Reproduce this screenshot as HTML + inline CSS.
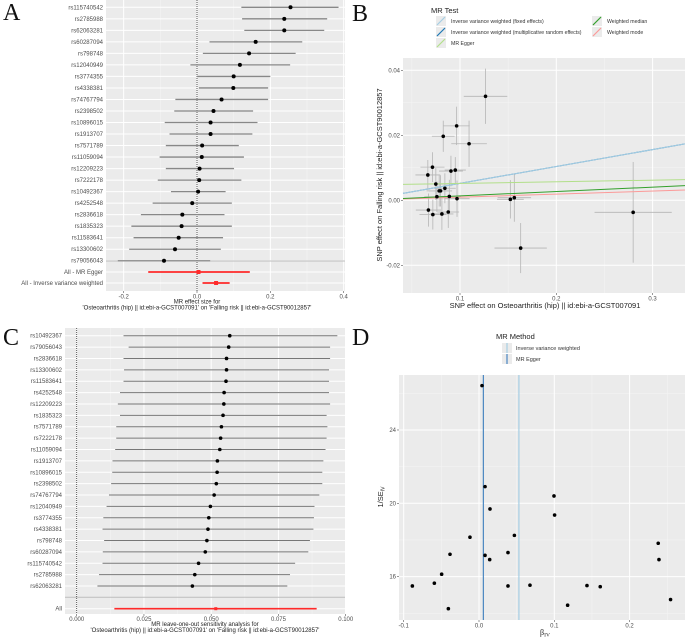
<!DOCTYPE html>
<html><head><meta charset="utf-8">
<style>
html,body{margin:0;padding:0;background:#fff;}
svg{display:block;font-family:"Liberation Sans",sans-serif;}
.tick{font-size:6px;fill:#4d4d4d;}
.ttl{font-size:6px;fill:#222;}
.plab{font-family:"Liberation Serif",serif;font-size:24px;fill:#111;}
</style></head>
<body>
<svg id="fig" width="685" height="638" viewBox="0 0 685 638" xmlns="http://www.w3.org/2000/svg"></svg>
<script>
// ---------- Panel A data ----------
const aSnps=["rs115740542","rs2785988","rs62063281","rs60287094","rs798748","rs12040949","rs3774355","rs4338381","rs74767794","rs2398502","rs10896015","rs1913707","rs7571789","rs11059094","rs12209223","rs7222178","rs10492367","rs4252548","rs2836618","rs1835323","rs11583641","rs13300602","rs79056043"];
const aEst=[0.255,0.238,0.238,0.160,0.142,0.117,0.100,0.099,0.067,0.045,0.037,0.037,0.014,0.013,0.007,0.006,0.003,-0.013,-0.040,-0.042,-0.050,-0.060,-0.090];
const aLo=[0.121,0.123,0.129,0.034,0.016,-0.018,0.000,0.005,-0.059,-0.062,-0.088,-0.075,-0.085,-0.102,-0.085,-0.107,-0.071,-0.121,-0.153,-0.179,-0.173,-0.185,-0.216];
const aHi=[0.386,0.355,0.347,0.287,0.269,0.254,0.200,0.194,0.194,0.153,0.165,0.151,0.114,0.128,0.101,0.121,0.078,0.095,0.075,0.095,0.071,0.065,0.036];
const aSumLabels=["All - MR Egger","All - Inverse variance weighted"];
const aSumEst=[0.004,0.052];
const aSumLo=[-0.133,0.015];
const aSumHi=[0.144,0.089];
const aTicks=[-0.2,0.0,0.2,0.4];
const aTickLabels=["-0.2","0.0","0.2","0.4"];
// ---------- Panel B data ----------
const bX=[0.1265,0.0965,0.0826,0.1094,0.0714,0.0666,0.0951,0.0906,0.0749,0.0843,0.0784,0.0798,0.0760,0.0889,0.0969,0.0672,0.0718,0.0812,0.0878,0.1523,0.1564,0.1630,0.2798];
const bY=[0.0320,0.0229,0.0197,0.0174,0.0102,0.0078,0.0093,0.0090,0.0050,0.0037,0.0029,0.0029,0.0011,0.0012,0.0005,-0.0030,-0.0044,-0.0042,-0.0036,0.0003,0.0008,-0.0147,-0.0037];
const bXse=[0.0226,0.0136,0.0118,0.0185,0.0125,0.0129,0.0110,0.0124,0.0125,0.0113,0.0131,0.0120,0.0131,0.0122,0.0131,0.0131,0.0139,0.0120,0.0113,0.0139,0.0174,0.0272,0.0401];
const bYse=[0.0085,0.0059,0.0048,0.0071,0.0046,0.0046,0.0040,0.0047,0.0049,0.0046,0.0048,0.0048,0.0047,0.0051,0.0056,0.0051,0.0046,0.0049,0.0049,0.0059,0.0074,0.0077,0.0155];
const bMethods=["Inverse variance weighted (fixed effects)","Inverse variance weighted (multiplicative random effects)","MR Egger","Weighted median","Weighted mode"];
const bIntercept=[0,0,0.0047,0,0];
const bSlope=[0.052,0.052,0.005,0.0135,0.0095];
const bColors=["#a6cee3","#1f78b4","#b2df8a","#33a02c","#fb9a99"];
const bXTicks=[0.1,0.2,0.3];
const bXTickLabels=["0.1","0.2","0.3"];
const bYTicks=[-0.02,0.00,0.02,0.04];
const bYTickLabels=["-0.02","0.00","0.02","0.04"];
// ---------- Panel C data ----------
const cSnps=["rs10492367","rs79056043","rs2836618","rs13300602","rs11583641","rs4252548","rs12209223","rs1835323","rs7571789","rs7222178","rs11059094","rs1913707","rs10896015","rs2398502","rs74767794","rs12040949","rs3774355","rs4338381","rs798748","rs60287094","rs115740542","rs2785988","rs62063281"];
const cEst=[0.0569,0.0565,0.0557,0.0557,0.0555,0.0548,0.0547,0.0544,0.0538,0.0535,0.0532,0.0523,0.0522,0.0519,0.0511,0.0497,0.0491,0.0488,0.0484,0.0478,0.0453,0.0439,0.0430];
const cLo=[0.0174,0.0193,0.0174,0.0176,0.0174,0.0161,0.0153,0.0161,0.0147,0.0147,0.0143,0.0133,0.0132,0.0128,0.0120,0.0111,0.0099,0.0096,0.0102,0.0097,0.0096,0.0083,0.0077];
const cHi=[0.0969,0.0942,0.0942,0.0938,0.0938,0.0938,0.0942,0.0929,0.0932,0.0929,0.0925,0.0917,0.0913,0.0913,0.0902,0.0884,0.0882,0.0880,0.0867,0.0861,0.0812,0.0793,0.0783];
const cAll=[0.0517,0.0140,0.0892];
const cTicks=[0,0.025,0.05,0.075,0.1];
const cTickLabels=["0.000","0.025","0.050","0.075","0.100"];
// ---------- Panel D data ----------
const dBeta=[0.004,0.008,0.0146,-0.012,0.047,0.0996,0.1004,-0.0385,0.008,0.0142,0.0385,-0.0496,-0.0593,-0.0885,0.0385,0.0677,0.1434,0.161,-0.0407,0.1177,0.238,0.239,0.2544];
const dInvSe=[26.42,20.91,19.69,18.15,18.25,20.4,19.36,17.22,17.16,16.93,17.31,16.13,15.64,15.49,15.49,15.53,15.51,15.45,14.25,14.44,17.82,16.93,14.75];
const dMethods=["Inverse variance weighted","MR Egger"];
const dMethodBeta=[0.053,0.0058];
const dColors=["#a6cee3","#4a86c0"];
const dXTicks=[-0.1,0,0.1,0.2];
const dXTickLabels=["-0.1","0.0","0.1","0.2"];
const dYTicks=[16,20,24];
const dYTickLabels=["16","20","24"];

const NS="http://www.w3.org/2000/svg";
const svg=document.getElementById('fig');
function el(tag,attrs,parent){const e=document.createElementNS(NS,tag);for(const k in attrs)e.setAttribute(k,attrs[k]);(parent||svg).appendChild(e);return e;}
function grp(name){const g=el('g',{});


return g;}
function txt(g,x,y,s,cls,anchor,name){const t=el('text',{x:x,y:y,'class':cls,'text-anchor':anchor||'start'},g);t.textContent=s;


return t;}
function ln(g,x1,y1,x2,y2,stroke,w,name,extra){const l=el('line',Object.assign({x1:x1,y1:y1,x2:x2,y2:y2,stroke:stroke,'stroke-width':w},extra||{}),g);


return l;}
function bg(g,x,y,w,h){const r=el('rect',{x:x,y:y,width:w,height:h,fill:'#ebebeb'},g);


return r;}
function dot(g,x,y,r,fill,name){const c=el('circle',{cx:x,cy:y,r:r,fill:fill},g);


return c;}

// ================= Panel A =================
(function(){
const g=grp('panel-a-forest-plot');
const L=106,R=345,T=0,B=291;
const xA=v=>197+v*366.7;
const rowY=i=>7.3+i*11.52;
bg(g,L,T,R-L,B-T);
[-0.1,0.1,0.3].forEach(v=>ln(g,xA(v),T,xA(v),B,'#f5f5f5',0.5,'minor-gridline'));
aTicks.forEach(v=>ln(g,xA(v),T,xA(v),B,'#fff',1,'major-gridline'));
aSnps.forEach((s,i)=>ln(g,L,rowY(i),R,rowY(i),'#fff',1,'row-gridline'));
aSumLabels.forEach((s,i)=>ln(g,L,272+i*11,R,272+i*11,'#fff',1,'row-gridline'));
ln(g,L,261,R,261,'#bdbdbd',1,'separator-line');
ln(g,xA(0),T,xA(0),B,'#333',0.8,'zero-line',{'stroke-dasharray':'1,1'});
aSnps.forEach((s,i)=>{
 ln(g,xA(aLo[i]),rowY(i),xA(aHi[i]),rowY(i),'#888',1.3,'ci-'+s);
 dot(g,xA(aEst[i]),rowY(i),2,'#000','point-'+s);
 txt(g,103,rowY(i)+2,s,'tick','end','label-'+s);
});
aSumLabels.forEach((s,i)=>{
 const y=272+i*11;
 ln(g,xA(aSumLo[i]),y,xA(aSumHi[i]),y,'#ff2a2a',1.8,'ci-summary');
 const r=el('rect',{x:xA(aSumEst[i])-2,y:y-2,width:4,height:4,fill:'#ff2a2a'},g);
 
 
 txt(g,103,y+2,s,'tick','end','summary-label');
});
aTicks.forEach((v,i)=>{ln(g,xA(v),B,xA(v),B+2,'#555',0.6,'x-tick');txt(g,xA(v),B+7.5,aTickLabels[i],'tick','middle','x-tick-label');});
txt(g,197,303.5,'MR effect size for','ttl','middle','x-axis-title-line1');
txt(g,197,309.5,"'Osteoarthritis (hip) || id:ebi-a-GCST007091' on 'Falling risk || id:ebi-a-GCST90012857'",'ttl','middle','x-axis-title-line2');
txt(g,3,20,'A','plab','start','panel-label-a');
})();

// ================= Panel B =================
(function(){
const g=grp('panel-b-scatter-plot');
const L=403,R=685,T=58,B=293;
const xB=v=>460+(v-0.1)*963;
const yB=v=>200.3-v*3250;
bg(g,L,T,R-L,B-T);
[0.05,0.15,0.25].forEach(v=>ln(g,xB(v),T,xB(v),B,'#f5f5f5',0.5,'minor-gridline'));
[-0.01,0.01,0.03].forEach(v=>ln(g,L,yB(v),R,yB(v),'#f5f5f5',0.5,'minor-gridline'));
bXTicks.forEach(v=>ln(g,xB(v),T,xB(v),B,'#fff',1,'major-gridline'));
bYTicks.forEach(v=>ln(g,L,yB(v),R,yB(v),'#fff',1,'major-gridline'));
bX.forEach((x,i)=>{
 ln(g,xB(x-bXse[i]),yB(bY[i]),xB(x+bXse[i]),yB(bY[i]),'#b5b5b5',0.8,'x-error-bar');
 ln(g,xB(x),yB(bY[i]-bYse[i]),xB(x),yB(bY[i]+bYse[i]),'#b5b5b5',0.8,'y-error-bar');
});
const x0=(L-460)/963+0.1, x1=(R-460)/963+0.1;
const order=[1,0,2,4,3];
order.forEach(k=>{
 ln(g,xB(x0),yB(bIntercept[k]+bSlope[k]*x0),xB(x1),yB(bIntercept[k]+bSlope[k]*x1),bColors[k],1,'regression-line-'+k);
});
bX.forEach((x,i)=>dot(g,xB(x),yB(bY[i]),1.8,'#000','snp-point'));
bXTicks.forEach((v,i)=>{ln(g,xB(v),B,xB(v),B+2,'#555',0.6,'x-tick');txt(g,xB(v),B+7.5,bXTickLabels[i],'tick','middle','x-tick-label');});
bYTicks.forEach((v,i)=>{ln(g,L-2,yB(v),L,yB(v),'#555',0.6,'y-tick');txt(g,L-3,yB(v)+2,bYTickLabels[i],'tick','end','y-tick-label');});
txt(g,545,308,'SNP effect on Osteoarthritis (hip) || id:ebi-a-GCST007091','ttl','middle','x-axis-title').setAttribute('style','font-size:7.5px');
const yt=txt(g,0,0,'SNP effect on Falling risk || id:ebi-a-GCST90012857','ttl','middle','y-axis-title');
yt.setAttribute('transform','translate(382,175) rotate(-90)');yt.setAttribute('style','font-size:7.5px');
const lg=grp('legend-mr-test');g.appendChild(lg);
txt(lg,431,13,'MR Test','ttl','start','legend-title').setAttribute('style','font-size:7.5px');
const pos=[[437,21],[437,32],[437,43],[593,21],[593,32]];
bMethods.forEach((m,k)=>{
 const [px,py]=pos[k];
 const r=el('rect',{x:px-1,y:py-5,width:10,height:10,fill:'#ebebeb'},lg);
 
 
 ln(lg,px,py+4,px+8,py-4,bColors[k],1.2,'legend-key');
 txt(lg,px+14,py+2,m,'tick','start','legend-entry').setAttribute('style','font-size:5.2px;fill:#333');
});
txt(g,352,21,'B','plab','start','panel-label-b');
})();

// ================= Panel C =================
(function(){
const g=grp('panel-c-leave-one-out');
const L=65,R=345,T=328,B=614;
const xC=v=>76.7+v*2690;
const rowY=i=>335.7+i*11.38;
bg(g,L,T,R-L,B-T);
[0.0125,0.0375,0.0625,0.0875].forEach(v=>ln(g,xC(v),T,xC(v),B,'#f5f5f5',0.5,'minor-gridline'));
cTicks.forEach(v=>ln(g,xC(v),T,xC(v),B,'#fff',1,'major-gridline'));
cSnps.forEach((s,i)=>ln(g,L,rowY(i),R,rowY(i),'#fff',1,'row-gridline'));
ln(g,L,608.7,R,608.7,'#fff',1,'row-gridline');
ln(g,L,597.3,R,597.3,'#bdbdbd',1,'separator-line');
ln(g,xC(0),T,xC(0),B,'#333',0.8,'zero-line',{'stroke-dasharray':'1,1'});
cSnps.forEach((s,i)=>{
 ln(g,xC(cLo[i]),rowY(i),xC(cHi[i]),rowY(i),'#777',1,'ci-'+s);
 dot(g,xC(cEst[i]),rowY(i),1.8,'#000','point-'+s);
 txt(g,62,rowY(i)+2,s,'tick','end','label-'+s);
});
ln(g,xC(cAll[1]),608.7,xC(cAll[2]),608.7,'#ff2a2a',1.6,'ci-all');
const r=el('rect',{x:xC(cAll[0])-1.5,y:607.2,width:3,height:3,fill:'#ff2a2a'},g);


txt(g,62,610.7,'All','tick','end','label-all');
cTicks.forEach((v,i)=>{ln(g,xC(v),B,xC(v),B+2,'#555',0.6,'x-tick');txt(g,xC(v),B+7,cTickLabels[i],'tick','middle','x-tick-label');});
txt(g,205,626,'MR leave-one-out sensitivity analysis for','ttl','middle','x-axis-title-line1');
txt(g,205,632,"'Osteoarthritis (hip) || id:ebi-a-GCST007091' on 'Falling risk || id:ebi-a-GCST90012857'",'ttl','middle','x-axis-title-line2');
txt(g,3,345,'C','plab','start','panel-label-c');
})();

// ================= Panel D =================
(function(){
const g=grp('panel-d-funnel-plot');
const L=399,R=685,T=375,B=620;
const xD=v=>479+v*753;
const yD=v=>503.3-(v-20)*18.33;
bg(g,L,T,R-L,B-T);
[-0.05,0.05,0.15,0.25].forEach(v=>ln(g,xD(v),T,xD(v),B,'#f5f5f5',0.5,'minor-gridline'));
[14,18,22,26].forEach(v=>ln(g,L,yD(v),R,yD(v),'#f5f5f5',0.5,'minor-gridline'));
dXTicks.forEach(v=>ln(g,xD(v),T,xD(v),B,'#fff',1,'major-gridline'));
dYTicks.forEach(v=>ln(g,L,yD(v),R,yD(v),'#fff',1,'major-gridline'));
dMethods.forEach((m,k)=>ln(g,xD(dMethodBeta[k]),T,xD(dMethodBeta[k]),B,dColors[k],1.2,'method-line-'+k));
dBeta.forEach((b,i)=>dot(g,xD(b),yD(dInvSe[i]),1.8,'#000','snp-point'));
dXTicks.forEach((v,i)=>{ln(g,xD(v),B,xD(v),B+2,'#555',0.6,'x-tick');txt(g,xD(v),B+7.5,dXTickLabels[i],'tick','middle','x-tick-label');});
dYTicks.forEach((v,i)=>{ln(g,L-2,yD(v),L,yD(v),'#555',0.6,'y-tick');txt(g,L-3,yD(v)+2,dYTickLabels[i],'tick','end','y-tick-label');});
const xt=txt(g,545,635,'β','ttl','middle','x-axis-title');xt.setAttribute('style','font-size:8px;font-family:Liberation Serif,serif');
const sub=el('tspan',{'font-size':'5.5px',dy:'1.5'},xt);sub.textContent='IV';
const yt=txt(g,0,0,'1/SE','ttl','middle','y-axis-title');yt.setAttribute('transform','translate(383,497) rotate(-90)');yt.setAttribute('style','font-size:7.5px');
const s2=el('tspan',{'font-size':'5px',dy:'1.5'},yt);s2.textContent='IV';
const lg=grp('legend-mr-method');g.appendChild(lg);
txt(lg,496,339,'MR Method','ttl','start','legend-title').setAttribute('style','font-size:7.5px');
dMethods.forEach((m,k)=>{
 const py=348+k*11;
 const r=el('rect',{x:502,y:py-5,width:10,height:10,fill:'#ebebeb'},lg);
 
 
 ln(lg,507,py-5,507,py+5,dColors[k],1.2,'legend-key');
 txt(lg,516,py+2,m,'tick','start','legend-entry').setAttribute('style','font-size:5.5px;fill:#333');
});
txt(g,352,345,'D','plab','start','panel-label-d');
})();
</script>
</body></html>
